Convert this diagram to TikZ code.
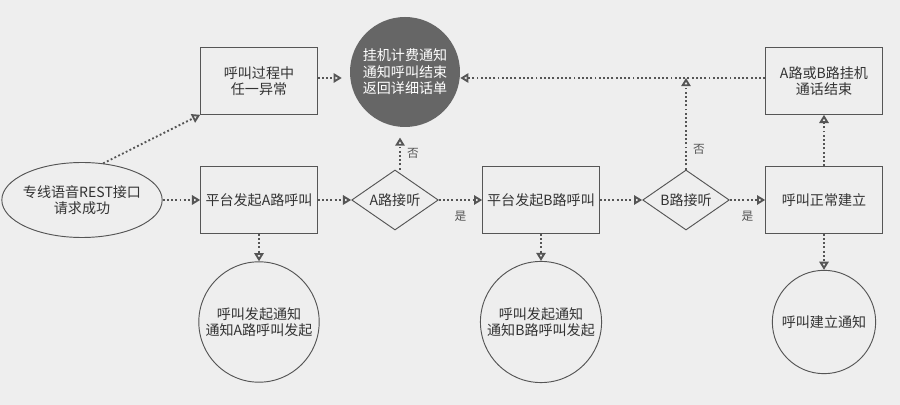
\documentclass[tikz,border=0pt]{standalone}
\usepackage{fontspec}
\newfontfamily\cjk{Noto Sans CJK SC}
\usetikzlibrary{arrows.meta, shapes.geometric}
\definecolor{bgc}{HTML}{EEEEEE}
\definecolor{linec}{HTML}{555555}
\tikzset{
  box/.style={rectangle, draw=linec, thick, minimum width=3.5cm, minimum height=2cm, align=center},
  roundbox/.style={circle, draw=linec, thick, minimum size=3.4cm, align=center},
  darkbox/.style={circle, fill=black!60, text=white, minimum size=3.3cm, align=center},
  askbox/.style={diamond, draw=linec, thick, minimum width=2.6cm, minimum height=1.8cm, aspect=1.5, inner sep=-3pt},
  flow/.style={linec, dotted, line width=1.6pt, -{Triangle[open, length=7pt, width=8pt]}},
  tag/.style={font=\cjk\normalsize}
}
\begin{document}
\begin{tikzpicture}[x=0.03cm, y=-0.03cm, font=\cjk\large, text=black!80]
  \fill[bgc] (0,0) rectangle (900,405);
  \useasboundingbox (0,0) rectangle (900,405);

  \node[ellipse, draw=linec, thick, minimum width=3.9cm, minimum height=2.25cm, inner sep=-2pt, align=center] (start) at (82,200) {专线语音REST接口\\请求成功};
  \node[box] (abnormal) at (259,81) {呼叫过程中\\任一异常};
  \node[darkbox] (hangup) at (405,72) {挂机计费通知\\通知呼叫结束\\返回详细话单};
  \node[box] (callA) at (259,200) {平台发起A路呼叫};
  \node[askbox] (askA) at (395,200) {A路接听};
  \node[box] (callB) at (541,200) {平台发起B路呼叫};
  \node[askbox] (askB) at (686,200) {B路接听};
  \node[box] (setup) at (824,200) {呼叫正常建立};
  \node[box] (ended) at (824,81) {A路或B路挂机\\通话结束};
  \node[roundbox] (noteA) at (259,322) {呼叫发起通知\\通知A路呼叫发起};
  \node[roundbox] (noteB) at (541,322) {呼叫发起通知\\通知B路呼叫发起};
  \node[roundbox, minimum size=3.1cm] (noteC) at (824,322) {呼叫建立通知};
  \coordinate (joint) at (686,78);

  \draw[flow] (start) -- (callA);
  \draw[flow] (start.60) -- (abnormal.south west);
  \draw[flow] (abnormal.east |- hangup) ++(0,6) -- ++(24,0);
  \draw[flow] (callA) -- (askA);
  \draw[flow] (askA) -- node[tag, below=5pt] {是} (callB);
  \draw[flow] (askA.north) ++(5,0) -- node[tag, right=2pt] {否} ++(0,-32);
  \draw[flow] (callB) -- (askB);
  \draw[flow] (askB) -- node[tag, below=5pt] {是} (setup);
  \draw[flow] (askB.north) -- node[tag, right=2pt, pos=0.22] {否} (joint);
  \draw[flow] (ended.west |- joint) -- (hangup.east |- joint);
  \draw[flow] (setup) -- (ended);
  \draw[flow] (callA) -- (noteA);
  \draw[flow] (callB) -- (noteB);
  \draw[flow] (setup) -- (noteC);
\end{tikzpicture}
\end{document}
